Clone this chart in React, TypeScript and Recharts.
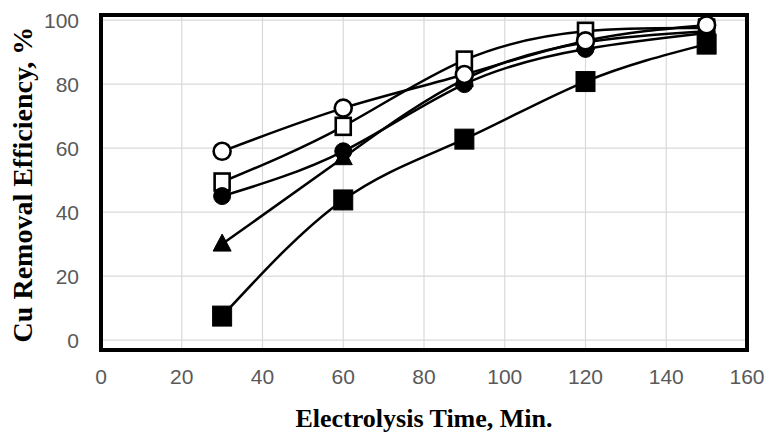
import React from "react";
import { LineChart, Line, XAxis, YAxis, CartesianGrid, ReferenceArea } from "recharts";

const times = [30, 60, 90, 120, 150];
const openCircle = [59, 72.5, 83, 93.5, 98.5];
const openSquare = [49.4, 66.8, 87.5, 96.5, 97.5];
const filledCircle = [45, 59, 80, 91, 96];
const filledTriangle = [30, 57, 81.5, 93, 96.5];
const filledSquare = [7.5, 43.8, 62.8, 80.8, 92.5];
const xTicks = [0, 20, 40, 60, 80, 100, 120, 140, 160];
const yTicks = [0, 20, 40, 60, 80, 100];

const data = times.map((t, i) => ({
  t,
  oc: openCircle[i],
  os: openSquare[i],
  fc: filledCircle[i],
  ft: filledTriangle[i],
  fs: filledSquare[i],
}));

const OpenCircleDot = (p: any) => (
  <circle key={`oc${p.index}`} cx={p.cx} cy={p.cy} r={8.5} fill="#fff" stroke="#000" strokeWidth={2.6} />
);
const OpenSquareDot = (p: any) => (
  <rect key={`os${p.index}`} x={p.cx - 7.5} y={p.cy - 8.5} width={15} height={17} fill="#fff" stroke="#000" strokeWidth={2.6} />
);
const FilledCircleDot = (p: any) => (
  <circle key={`fc${p.index}`} cx={p.cx} cy={p.cy} r={8.5} fill="#000" stroke="#000" strokeWidth={1} />
);
const FilledTriangleDot = (p: any) => (
  <polygon
    key={`ft${p.index}`}
    points={`${p.cx},${p.cy - 10} ${p.cx + 9},${p.cy + 7} ${p.cx - 9},${p.cy + 7}`}
    fill="#000"
    stroke="#000"
    strokeWidth={1}
  />
);
const FilledSquareDot = (p: any) => (
  <rect key={`fs${p.index}`} x={p.cx - 9.5} y={p.cy - 10} width={19} height={20} fill="#000" stroke="#000" strokeWidth={1} />
);

const tickStyle = { fill: "#595959", fontSize: 21, fontFamily: "Liberation Sans" };

const XTitle = (props: any) => {
  const vb = props.viewBox || {};
  return (
    <text
      x={vb.x + vb.width / 2}
      y={vb.y + 77}
      textAnchor="middle"
      fontFamily="Liberation Serif"
      fontWeight="bold"
      fontSize={26}
      fill="#000"
    >
      Electrolysis Time, Min.
    </text>
  );
};

const YTitle = (props: any) => {
  const vb = props.viewBox || {};
  const cy = vb.y + vb.height / 2 + 2;
  return (
    <text
      transform={`translate(32, ${cy}) rotate(-90)`}
      textAnchor="middle"
      fontFamily="Liberation Serif"
      fontWeight="bold"
      fontSize={28}
      fill="#000"
    >
      Cu Removal Efficiency, %
    </text>
  );
};

export default function App() {
  return (
    <div style={{ position: "absolute", left: 0, top: 0, width: 765, height: 432, background: "#fff" }}>
      <LineChart width={765} height={432} data={data} margin={{ top: 15, right: 18, bottom: 0, left: 0 }}>
        <CartesianGrid stroke="#d9d9d9" strokeWidth={1.2} />
        <XAxis
          dataKey="t"
          type="number"
          domain={[0, 160]}
          ticks={xTicks}
          axisLine={false}
          tickLine={false}
          tickSize={0}
          tickMargin={19}
          height={82}
          tick={tickStyle}
          label={<XTitle />}
        />
        <YAxis
          type="number"
          domain={[-3.1, 101.6]}
          ticks={yTicks}
          allowDataOverflow
          axisLine={false}
          tickLine={false}
          tickSize={0}
          tickMargin={22}
          width={101}
          tick={tickStyle}
          label={<YTitle />}
        />
        <ReferenceArea x1={0} x2={160} y1={-3.1} y2={101.6} fill="none" stroke="#000" strokeWidth={4} ifOverflow="visible" />
        <Line dataKey="fs" type="natural" stroke="#000" strokeWidth={2.5} dot={FilledSquareDot} isAnimationActive={false} />
        <Line dataKey="ft" type="natural" stroke="#000" strokeWidth={2.5} dot={FilledTriangleDot} isAnimationActive={false} />
        <Line dataKey="os" type="natural" stroke="#000" strokeWidth={2.5} dot={OpenSquareDot} isAnimationActive={false} />
        <Line dataKey="fc" type="natural" stroke="#000" strokeWidth={2.5} dot={FilledCircleDot} isAnimationActive={false} />
        <Line dataKey="oc" type="natural" stroke="#000" strokeWidth={2.5} dot={OpenCircleDot} isAnimationActive={false} />
      </LineChart>
    </div>
  );
}
